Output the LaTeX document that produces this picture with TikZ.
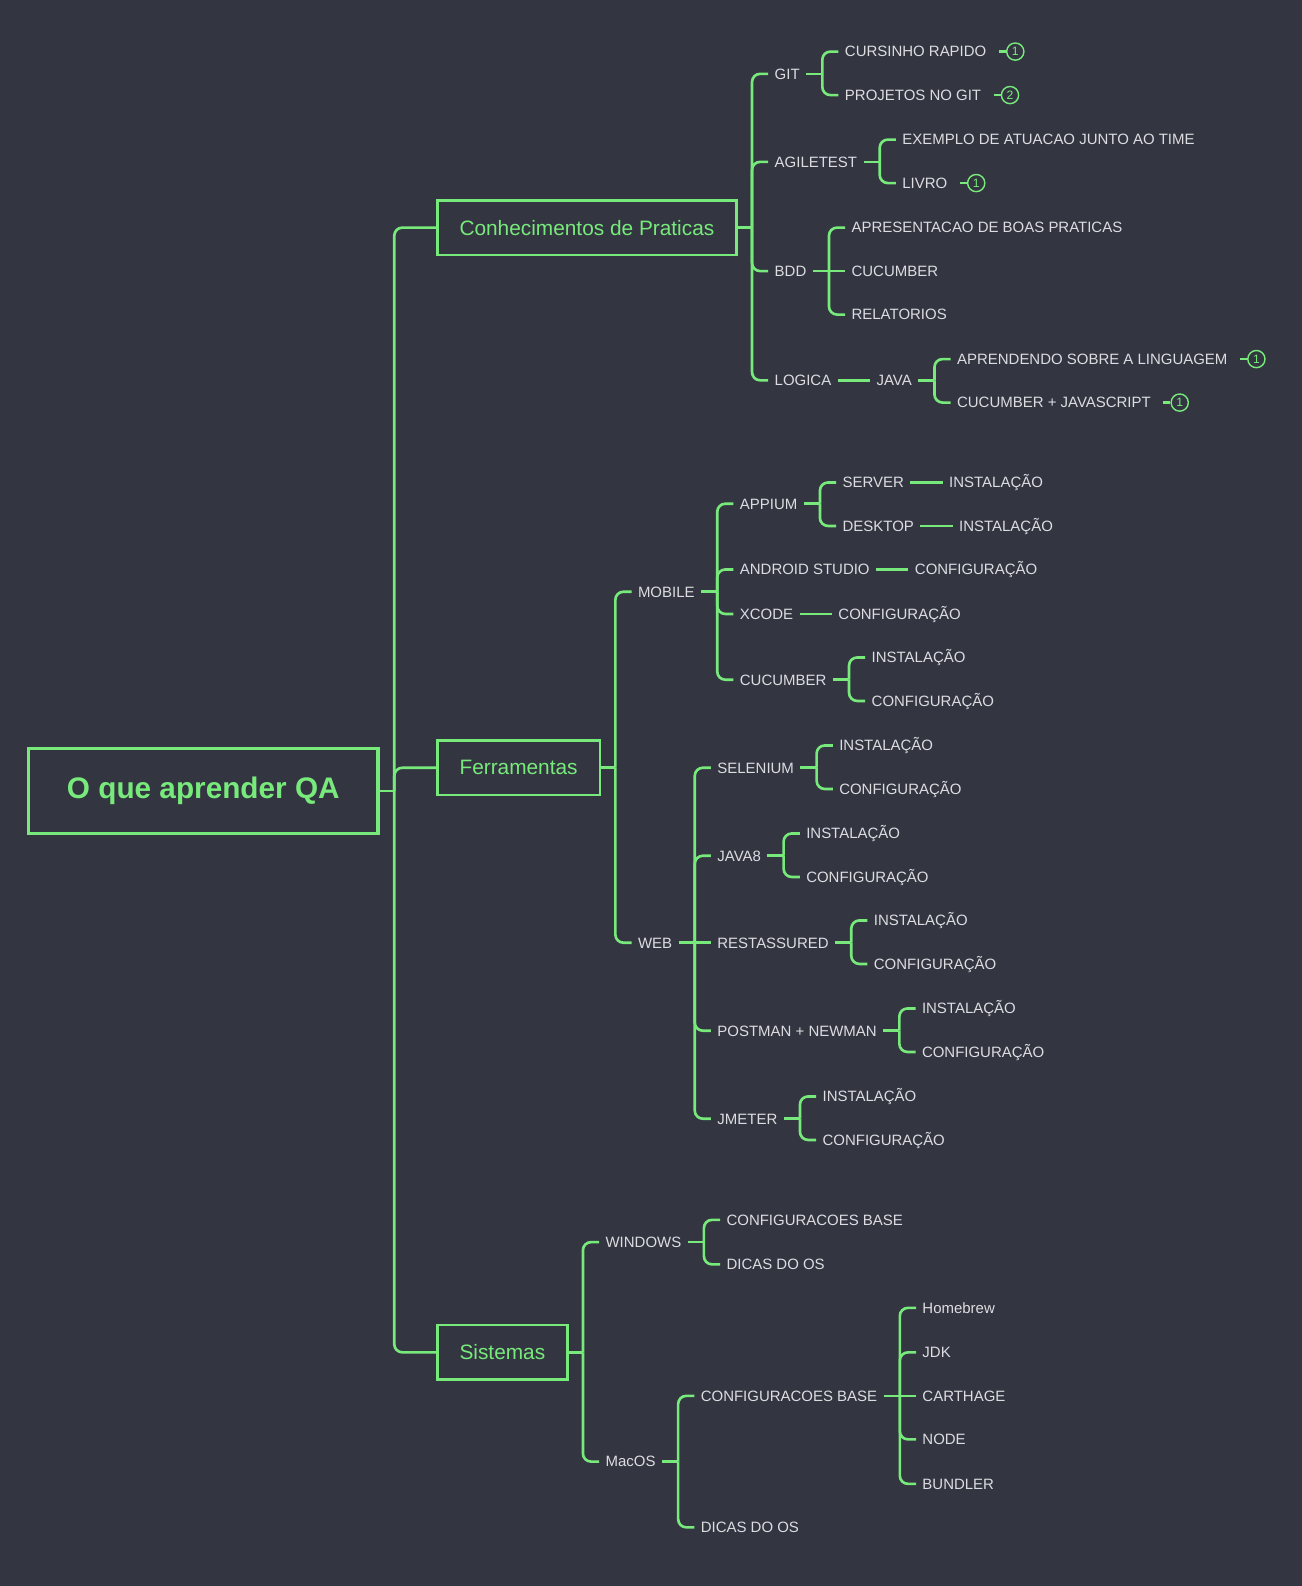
\documentclass[tikz,border=0pt]{standalone}
\usepackage{fontspec}
\setmainfont{Liberation Sans}
\usetikzlibrary{positioning}
\definecolor{bg}{RGB}{51,53,64}
\definecolor{mint}{RGB}{120,234,124}
\definecolor{itemgray}{RGB}{220,220,225}

\begin{document}
\begin{tikzpicture}[x=0.5pt, y=-0.5pt,
    link/.style={draw=mint, line width=1.3pt, rounded corners=4pt},
    item/.style={text=itemgray, inner sep=0pt, text height=5.3pt, text depth=0pt,
      font=\fontsize{7.4}{9}\selectfont},
    topic/.style={draw=mint, line width=1.3pt, text=mint, inner xsep=11pt,
      minimum height=27pt, font=\fontsize{10.3}{12}\selectfont},
    central/.style={draw=mint, line width=1.8pt, text=mint, minimum width=173pt,
      minimum height=42pt, font=\fontsize{14.7}{17}\selectfont\bfseries},
    badge/.style={circle, draw=mint, text=mint, line width=0.7pt, minimum size=8.5pt,
      inner sep=0pt, font=\fontsize{6}{6}\selectfont}
    ]
\path[use as bounding box, fill=bg] (0,0) rectangle (1287,1568);

% centre and main topics
\node[central] (root) at (201,782) {O que aprender QA};
\node[topic, anchor=west] (praticas) at (431,225) {Conhecimentos de Praticas};
\node[topic, anchor=west] (ferramentas) at (431,759) {Ferramentas};
\node[topic, anchor=west] (sistemas) at (431,1337) {Sistemas};

\draw[link] (root.east) -- ++(7pt,0) coordinate (jroot);
\foreach \b in {praticas,ferramentas,sistemas}
  \draw[link] (jroot) |- (\b.west);

% Conhecimentos de Praticas
\node[item, right=18pt of praticas, yshift=76pt] (git) {GIT};
\node[item, right=18pt of praticas, yshift=32.5pt] (agile) {AGILETEST};
\node[item, right=18pt of praticas, yshift=-21.5pt] (bdd) {BDD};
\node[item, right=18pt of praticas, yshift=-75.5pt] (logica) {LOGICA};
\draw[link] (praticas.east) -- ++(7pt,0) coordinate (jprat);
\foreach \c in {git,agile,bdd,logica}
  \draw[link] (jprat) |- ([xshift=-3pt]\c.west);

\node[item, right=22pt of git, yshift=11pt] (cursinho) {CURSINHO RAPIDO};
\node[item, right=22pt of git, yshift=-10.5pt] (projgit) {PROJETOS NO GIT};
\draw[link] ([xshift=3pt]git.east) -- ++(8pt,0) coordinate (jgit);
\foreach \c in {cursinho,projgit}
  \draw[link] (jgit) |- ([xshift=-3pt]\c.west);
\node[badge, right=9.5pt of cursinho] (bcur) {1};
\node[badge, right=9.5pt of projgit] (bproj) {2};
\draw[link] ([xshift=6pt]cursinho.east) -- (bcur);
\draw[link] ([xshift=6pt]projgit.east) -- (bproj);

\node[item, right=22pt of agile, yshift=11pt] (exemplo) {EXEMPLO DE ATUACAO JUNTO AO TIME};
\node[item, right=22pt of agile, yshift=-10.5pt] (livro) {LIVRO};
\draw[link] ([xshift=3pt]agile.east) -- ++(8pt,0) coordinate (jagile);
\foreach \c in {exemplo,livro}
  \draw[link] (jagile) |- ([xshift=-3pt]\c.west);
\node[badge, right=9.5pt of livro] (blivro) {1};
\draw[link] ([xshift=6pt]livro.east) -- (blivro);

\node[item, right=22pt of bdd, yshift=21.5pt] (apresent) {APRESENTACAO DE BOAS PRATICAS};
\node[item, right=22pt of bdd] (cucbdd) {CUCUMBER};
\node[item, right=22pt of bdd, yshift=-21.5pt] (relat) {RELATORIOS};
\draw[link] ([xshift=3pt]bdd.east) -- ++(8pt,0) coordinate (jbdd);
\foreach \c in {apresent,relat}
  \draw[link] (jbdd) |- ([xshift=-3pt]\c.west);
\draw[link] (jbdd) -- ([xshift=-3pt]cucbdd.west);

\node[item, right=22pt of logica] (java) {JAVA};
\draw[link] ([xshift=3pt]logica.east) -- ([xshift=-3pt]java.west);
\node[item, right=22pt of java, yshift=10.5pt] (aprend) {APRENDENDO SOBRE A LINGUAGEM};
\node[item, right=22pt of java, yshift=-11pt] (cucjs) {CUCUMBER + JAVASCRIPT};
\draw[link] ([xshift=3pt]java.east) -- ++(8pt,0) coordinate (jjava);
\foreach \c in {aprend,cucjs}
  \draw[link] (jjava) |- ([xshift=-3pt]\c.west);
\node[badge, right=9.5pt of aprend] (baprend) {1};
\node[badge, right=9.5pt of cucjs] (bcucjs) {1};
\draw[link] ([xshift=6pt]aprend.east) -- (baprend);
\draw[link] ([xshift=6pt]cucjs.east) -- (bcucjs);

% Ferramentas
\node[item, right=18pt of ferramentas, yshift=87pt] (mobile) {MOBILE};
\node[item, right=18pt of ferramentas, yshift=-86.5pt] (web) {WEB};
\draw[link] (ferramentas.east) -- ++(7pt,0) coordinate (jferr);
\foreach \c in {mobile,web}
  \draw[link] (jferr) |- ([xshift=-3pt]\c.west);

\node[item, right=22pt of mobile, yshift=43.5pt] (appium) {APPIUM};
\node[item, right=22pt of mobile, yshift=11pt] (android) {ANDROID STUDIO};
\node[item, right=22pt of mobile, yshift=-11pt] (xcode) {XCODE};
\node[item, right=22pt of mobile, yshift=-43.5pt] (cucmob) {CUCUMBER};
\draw[link] ([xshift=3pt]mobile.east) -- ++(8pt,0) coordinate (jmobile);
\foreach \c in {appium,android,xcode,cucmob}
  \draw[link] (jmobile) |- ([xshift=-3pt]\c.west);

\node[item, right=22pt of appium, yshift=10.5pt] (server) {SERVER};
\node[item, right=22pt of appium, yshift=-11pt] (desktop) {DESKTOP};
\draw[link] ([xshift=3pt]appium.east) -- ++(8pt,0) coordinate (jappium);
\foreach \c in {server,desktop}
  \draw[link] (jappium) |- ([xshift=-3pt]\c.west);
\node[item, right=22pt of server] (serverinst) {INSTALAÇÃO};
\node[item, right=22pt of desktop] (desktopinst) {INSTALAÇÃO};
\draw[link] ([xshift=3pt]server.east) -- ([xshift=-3pt]serverinst.west);
\draw[link] ([xshift=3pt]desktop.east) -- ([xshift=-3pt]desktopinst.west);

\node[item, right=22pt of android] (androidconf) {CONFIGURAÇÃO};
\node[item, right=22pt of xcode] (xcodeconf) {CONFIGURAÇÃO};
\draw[link] ([xshift=3pt]android.east) -- ([xshift=-3pt]androidconf.west);
\draw[link] ([xshift=3pt]xcode.east) -- ([xshift=-3pt]xcodeconf.west);

\node[item, right=22pt of cucmob, yshift=11pt] (cucmobinst) {INSTALAÇÃO};
\node[item, right=22pt of cucmob, yshift=-10.5pt] (cucmobconf) {CONFIGURAÇÃO};
\draw[link] ([xshift=3pt]cucmob.east) -- ++(8pt,0) coordinate (jcucmob);
\foreach \c in {cucmobinst,cucmobconf}
  \draw[link] (jcucmob) |- ([xshift=-3pt]\c.west);

\node[item, right=22pt of web, yshift=86.5pt] (selenium) {SELENIUM};
\node[item, right=22pt of web, yshift=43pt] (java8) {JAVA8};
\node[item, right=22pt of web] (rest) {RESTASSURED};
\node[item, right=22pt of web, yshift=-43.5pt] (postman) {POSTMAN + NEWMAN};
\node[item, right=22pt of web, yshift=-87pt] (jmeter) {JMETER};
\draw[link] ([xshift=3pt]web.east) -- ++(8pt,0) coordinate (jweb);
\foreach \c in {selenium,java8,postman,jmeter}
  \draw[link] (jweb) |- ([xshift=-3pt]\c.west);
\draw[link] (jweb) -- ([xshift=-3pt]rest.west);

\foreach \t in {selenium,java8,rest,postman,jmeter}{
  \node[item, right=22pt of \t, yshift=11pt] (\t inst) {INSTALAÇÃO};
  \node[item, right=22pt of \t, yshift=-10.5pt] (\t conf) {CONFIGURAÇÃO};
  \draw[link] ([xshift=3pt]\t.east) -- ++(8pt,0) coordinate (j\t);
  \draw[link] (j\t) |- ([xshift=-3pt]\t inst.west);
  \draw[link] (j\t) |- ([xshift=-3pt]\t conf.west);
}

% Sistemas
\node[item, right=18pt of sistemas, yshift=54.5pt] (windows) {WINDOWS};
\node[item, right=18pt of sistemas, yshift=-54pt] (macos) {MacOS};
\draw[link] (sistemas.east) -- ++(7pt,0) coordinate (jsist);
\foreach \c in {windows,macos}
  \draw[link] (jsist) |- ([xshift=-3pt]\c.west);

\node[item, right=22pt of windows, yshift=11pt] (wincfg) {CONFIGURACOES BASE};
\node[item, right=22pt of windows, yshift=-11pt] (windicas) {DICAS DO OS};
\draw[link] ([xshift=3pt]windows.east) -- ++(8pt,0) coordinate (jwin);
\foreach \c in {wincfg,windicas}
  \draw[link] (jwin) |- ([xshift=-3pt]\c.west);

\node[item, right=22pt of macos, yshift=32.5pt] (maccfg) {CONFIGURACOES BASE};
\node[item, right=22pt of macos, yshift=-32.5pt] (macdicas) {DICAS DO OS};
\draw[link] ([xshift=3pt]macos.east) -- ++(8pt,0) coordinate (jmac);
\foreach \c in {maccfg,macdicas}
  \draw[link] (jmac) |- ([xshift=-3pt]\c.west);

\node[item, right=22pt of maccfg, yshift=43.5pt] (brew) {Homebrew};
\node[item, right=22pt of maccfg, yshift=21.5pt] (jdk) {JDK};
\node[item, right=22pt of maccfg] (carthage) {CARTHAGE};
\node[item, right=22pt of maccfg, yshift=-21.5pt] (nodejs) {NODE};
\node[item, right=22pt of maccfg, yshift=-43.5pt] (bundler) {BUNDLER};
\draw[link] ([xshift=3pt]maccfg.east) -- ++(8pt,0) coordinate (jcfg);
\foreach \c in {brew,jdk,nodejs,bundler}
  \draw[link] (jcfg) |- ([xshift=-3pt]\c.west);
\draw[link] (jcfg) -- ([xshift=-3pt]carthage.west);
\end{tikzpicture}
\end{document}
